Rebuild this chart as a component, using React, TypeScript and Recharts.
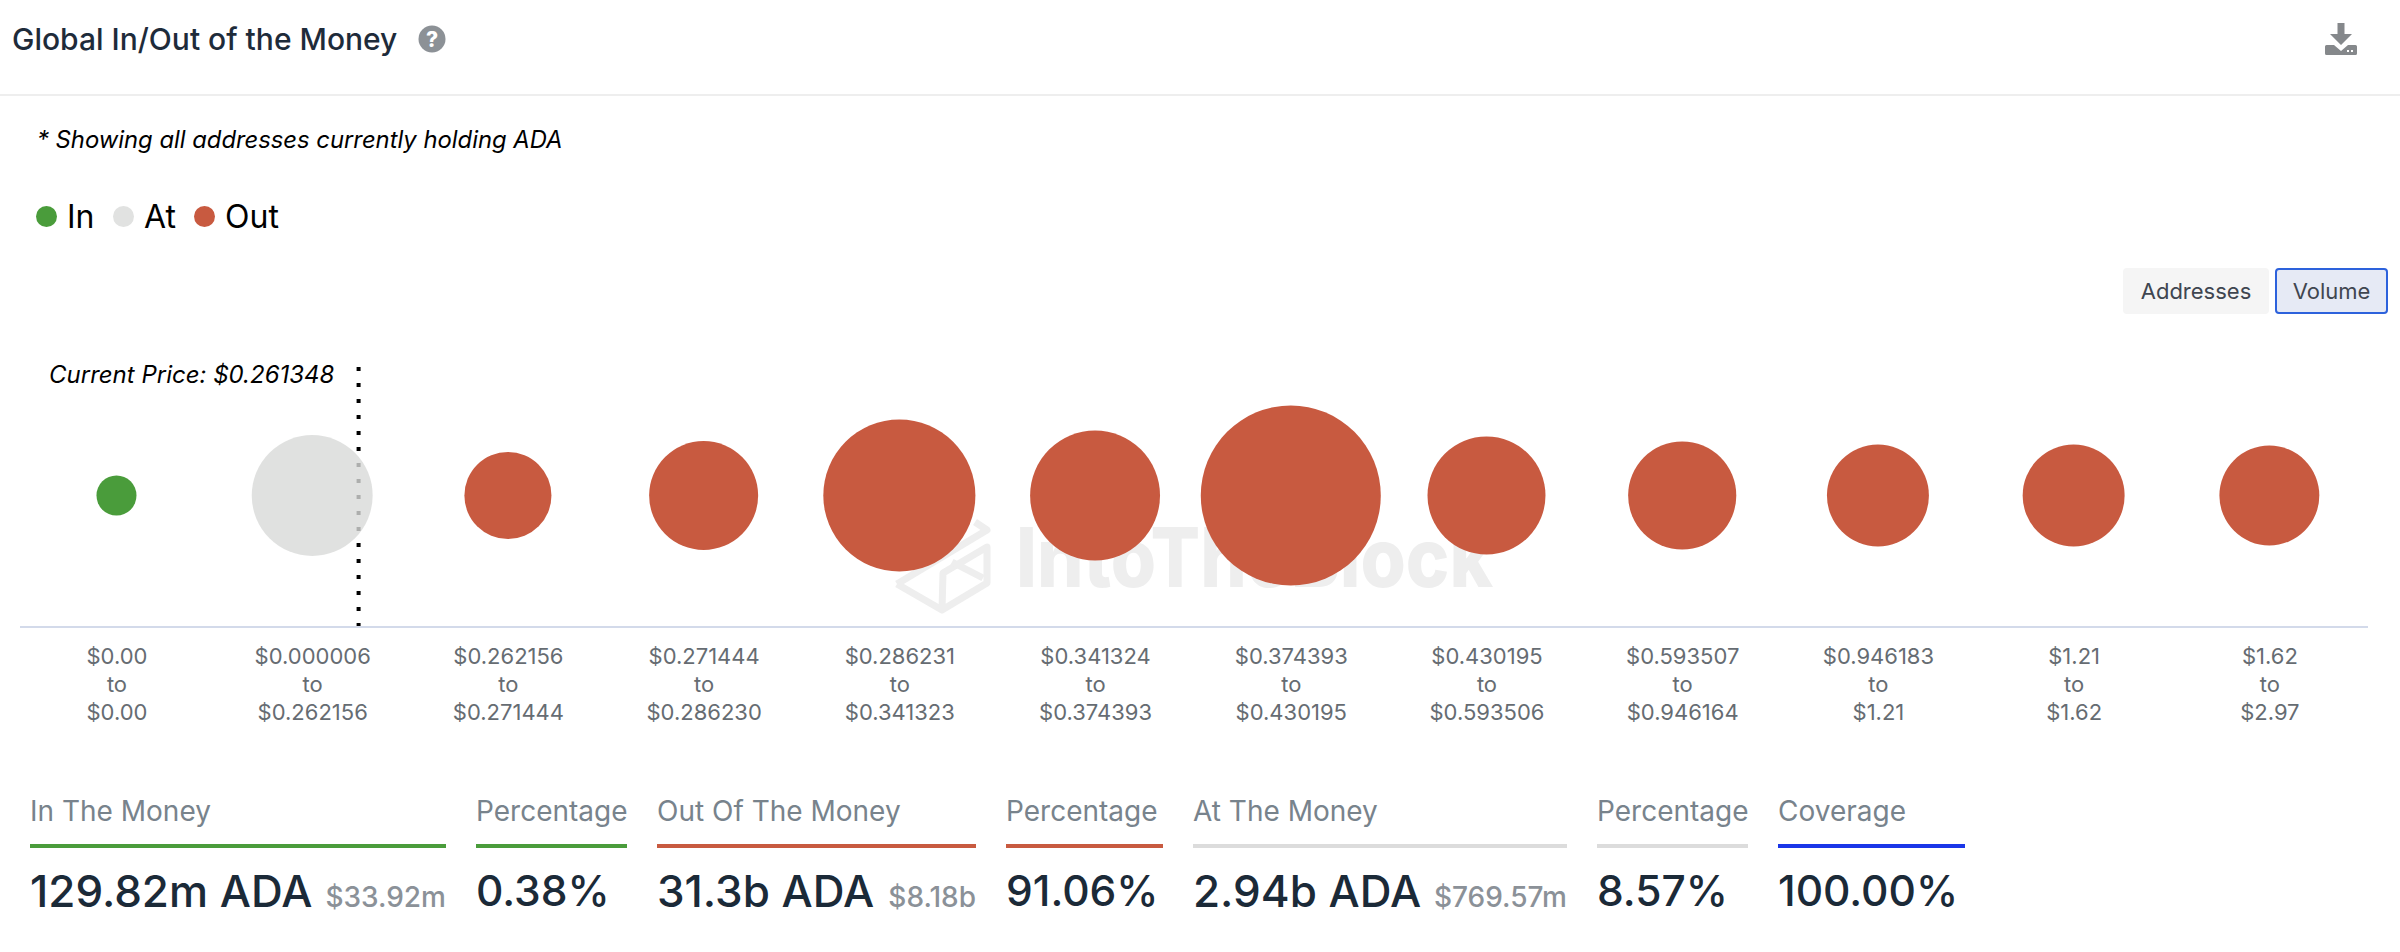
import React from 'react';
import { ScatterChart, Scatter, XAxis, YAxis, ZAxis, ReferenceLine, Legend } from 'recharts';

const rangeFrom = ['$0.00', '$0.000006', '$0.262156', '$0.271444', '$0.286231', '$0.341324', '$0.374393', '$0.430195', '$0.593507', '$0.946183', '$1.21', '$1.62'];
const rangeTo = ['$0.00', '$0.262156', '$0.271444', '$0.286230', '$0.341323', '$0.374393', '$0.430195', '$0.593506', '$0.946164', '$1.21', '$1.62', '$2.97'];
// Volume per price band, in billions of ADA
const inVolume = [0.13];
const atVolume = [2.94];
const outVolume = [1.42, 2.35, 4.78, 3.43, 6.78, 2.79, 2.31, 2.03, 2.03, 1.94];
const currentPriceX = 1.237;

const GREEN = '#4a9c3b';
const RED = '#c85a40';
const GRAY = '#d8d9d8';

const inData = inVolume.map((z, i) => ({ x: i, y: 1, z }));
const atData = atVolume.map((z, i) => ({ x: i + inVolume.length, y: 1, z }));
const outData = outVolume.map((z, i) => ({ x: i + inVolume.length + atVolume.length, y: 1, z }));
const tickIndexes = rangeFrom.map((_, i) => i);

const statLabels = ['In The Money', 'Percentage', 'Out Of The Money', 'Percentage', 'At The Money', 'Percentage', 'Coverage'];
const statValues = ['129.82m ADA', '0.38%', '31.3b ADA', '91.06%', '2.94b ADA', '8.57%', '100.00%'];
const statSubs = ['$33.92m', '', '$8.18b', '', '$769.57m', '', ''];
const statLefts = [30, 476, 657, 1006, 1193, 1597, 1778];
const statWidths = [416, 151, 319, 157, 374, 151, 187];
const statColors = [GREEN, GREEN, RED, RED, '#dcdcdc', '#dcdcdc', '#1a36e8'];

const FONT = 'Inter, sans-serif';

const PriceTick = (props: any) => {
  const { x, payload } = props;
  const i = payload.value;
  return (
    <text x={x + 0.5} y={664} textAnchor="middle" fontFamily={FONT} fontSize={22} fill="#666c72">
      <tspan x={x + 0.5} y={664}>{rangeFrom[i]}</tspan>
      <tspan x={x + 0.5} y={692}>to</tspan>
      <tspan x={x + 0.5} y={720}>{rangeTo[i]}</tspan>
    </text>
  );
};

const LegendContent = (props: any) => {
  const lefts = [36, 113, 194];
  return (
    <div style={{ position: 'relative', height: 40, width: 300 }}>
      {(props.payload || []).map((p: any, i: number) => (
        <div key={p.value}>
          <div style={{ position: 'absolute', left: lefts[i], top: 9, width: 21, height: 21, borderRadius: '50%', background: p.value === 'At' ? '#e1e2e1' : p.color }} />
          <div style={{ position: 'absolute', left: lefts[i] + 31, top: 0, fontFamily: FONT, fontSize: 32, lineHeight: '40px', color: '#000' }}>{p.value}</div>
        </div>
      ))}
    </div>
  );
};

export default function App() {
  return (
    <div style={{ position: 'absolute', left: 0, top: 0, width: 2400, height: 952, background: '#fff', overflow: 'hidden', fontFamily: FONT }}>
      {/* header */}
      <div style={{ position: 'absolute', left: 12, top: 18, fontSize: 30, lineHeight: '42px', fontWeight: 500, color: '#1e2b3a', whiteSpace: 'nowrap' }}>Global In/Out of the Money</div>
      <svg style={{ position: 'absolute', left: 418, top: 25 }} width={28} height={28}>
        <circle cx={14} cy={14} r={13.5} fill="#8c9196" />
        <text x={14} y={22} textAnchor="middle" fontFamily={FONT} fontWeight={800} fontSize={21} fill="#fff">?</text>
      </svg>
      <svg style={{ position: 'absolute', left: 2325, top: 23 }} width={32} height={32}>
        <path d="M12.5 0 H19.5 V11 H27 L16 22 L5 11 H12.5 Z" fill="#85888b" />
        <path d="M1.5 22 H9 L16 28 L23 22 H30.5 Q32 22 32 23.5 V30.5 Q32 32 30.5 32 H1.5 Q0 32 0 30.5 V23.5 Q0 22 1.5 22 Z" fill="#85888b" />
        <rect x={22} y={27} width={2} height={2} fill="#fff" />
        <rect x={26} y={27} width={2} height={2} fill="#fff" />
      </svg>
      <div style={{ position: 'absolute', left: 0, top: 94, width: 2400, height: 2, background: '#eeeeee' }} />
      <div style={{ position: 'absolute', left: 37, top: 122, fontSize: 23.8, lineHeight: '36px', fontStyle: 'italic', color: '#000', whiteSpace: 'nowrap' }}>* Showing all addresses currently holding ADA</div>

      {/* toggle buttons */}
      <div style={{ position: 'absolute', left: 2123, top: 268, width: 146, height: 46, background: '#f5f5f5', borderRadius: 4, textAlign: 'center', lineHeight: '46px', fontSize: 22, color: '#3f4650' }}>Addresses</div>
      <div style={{ position: 'absolute', left: 2275, top: 268, width: 113, height: 46, boxSizing: 'border-box', background: '#e6eaf5', border: '2px solid #2d62dc', borderRadius: 4, textAlign: 'center', lineHeight: '42px', fontSize: 22, color: '#3f4650' }}>Volume</div>

      {/* watermark */}
      <svg style={{ position: 'absolute', left: 880, top: 455 }} width={800} height={220}>
        <g transform="translate(0 50)">
          <g fill="none" stroke="#eeeeee" strokeWidth={7} strokeLinejoin="round">
            <path d="M17 79 L107 25 L95 17" />
            <path d="M17 79 L62 105 L107 78 L107 42 L63 68 L62 105" />
            <path d="M72 57 L103 73" />
          </g>
          <text x={136} y={82} fontFamily={FONT} fontWeight={800} fontSize={82} fill="#eeeeee" textLength={477} lengthAdjust="spacingAndGlyphs">IntoTheBlock</text>
        </g>
      </svg>

      <div style={{ position: 'absolute', left: 49, top: 357, fontSize: 24, lineHeight: '36px', fontStyle: 'italic', color: '#000', whiteSpace: 'nowrap' }}>Current Price: $0.261348</div>

      {/* chart */}
      <div style={{ position: 'absolute', left: 0, top: 0 }}>
        <ScatterChart width={2400} height={952} margin={{ top: 324, right: 32, bottom: 265, left: 20 }} style={{ background: 'transparent' }}>
          <Legend verticalAlign="top" align="left" height={40} itemSorter={null as any} wrapperStyle={{ position: 'absolute', left: 0, top: 197, width: 300, height: 40 }} content={<LegendContent />} />
          <XAxis
            dataKey="x"
            type="number"
            domain={[-0.493, 11.504]}
            ticks={tickIndexes}
            interval={0}
            tick={<PriceTick />}
            tickLine={false}
            axisLine={{ stroke: '#d3daea', strokeWidth: 2 }}
            height={60}
            allowDataOverflow
          />
          <YAxis dataKey="y" type="number" domain={[0, 2]} hide width={0} />
          <ZAxis dataKey="z" type="number" domain={[0.13, 6.78]} range={[Math.PI * 400, Math.PI * 8100]} />
          <ReferenceLine x={currentPriceX} stroke="#000" strokeWidth={4} strokeDasharray="4 12" />
          <Scatter name="In" data={inData} fill={GREEN} isAnimationActive={false} />
          <Scatter name="At" data={atData} fill={GRAY} fillOpacity={0.8} isAnimationActive={false} />
          <Scatter name="Out" data={outData} fill={RED} isAnimationActive={false} />
        </ScatterChart>
      </div>

      {/* summary row */}
      {statLabels.map((label, i) => (
        <div key={i} style={{ position: 'absolute', left: statLefts[i], top: 790, width: statWidths[i] }}>
          <div style={{ fontSize: 28, lineHeight: '42px', color: '#78838c', whiteSpace: 'nowrap' }}>{label}</div>
          <div style={{ position: 'absolute', left: 0, top: 54, width: '100%', height: 4, background: statColors[i] }} />
          <div style={{ position: 'absolute', left: 0, top: 76, width: '100%', display: 'flex', justifyContent: 'space-between', alignItems: 'baseline', whiteSpace: 'nowrap' }}>
            <span style={{ fontSize: statSubs[i] ? 44 : 42.5, lineHeight: '50px', fontWeight: 500, color: '#1b2a38' }}>{statValues[i]}</span>
            {statSubs[i] ? <span style={{ fontSize: 28, fontWeight: 500, color: '#8b9198' }}>{statSubs[i]}</span> : null}
          </div>
        </div>
      ))}
    </div>
  );
}
